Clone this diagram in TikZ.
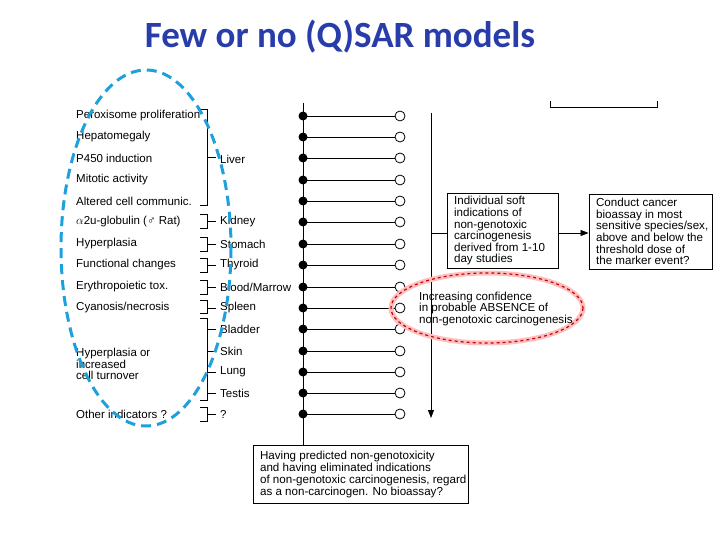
\documentclass[tikz,border=0pt]{standalone}
\usepackage{fontspec}
\setmainfont{Liberation Sans}
\newfontfamily\titlefont{Carlito}
\usetikzlibrary{arrows.meta}
\begin{document}
\begin{tikzpicture}[x=1pt,y=-1pt,
  lbl/.style={anchor=west,inner sep=0pt,font=\fontsize{11.5}{11.5}\selectfont,align=left},
  btxt/.style={font=\fontsize{11.6}{11.6}\selectfont,align=left},
  bx/.style={draw,line width=0.9pt,inner sep=0pt},
  fdot/.style={circle,fill=black,inner sep=0pt,minimum size=9pt},
  odot/.style={circle,draw,fill=white,line width=0.8pt,inner sep=0pt,minimum size=10pt},
  ln/.style={line width=0.8pt},
  brk/.style={line width=1pt}]
\useasboundingbox (0,0) rectangle (720,540);
\node[font=\titlefont\bfseries\fontsize{37}{40}\selectfont,text={rgb,255:red,40;green,60;blue,170}] (title) at (340,37) {Few or no (Q)SAR models};
% main vertical line
\coordinate (mtop) at (303,103);
\coordinate (mbot) at (303,445);
\draw[ln] (mtop) -- (mbot);
\foreach \i/\y in {1/116,2/137,3/158,4/180,5/201,6/222,7/244,8/265,9/287,10/308,11/329,12/351,13/372,14/393,15/414}{
  \node[odot] (o\i) at (400,\y) {};
  \draw[ln] (303,\y) -- (o\i);
  \node[fdot] (f\i) at (303,\y) {};
}
% left labels
\node[lbl] (l1) at (76,116) {Peroxisome proliferation};
\node[lbl] (l2) at (76,137) {Hepatomegaly};
\node[lbl] (l3) at (76,158) {P450 induction};
\node[lbl] (l4) at (76,180) {Mitotic activity};
\node[lbl] (l5) at (76,201) {Altered cell communic.};
\node[lbl] (l6) at (76,222) {$\alpha$2u-globulin (\char"2642\ Rat)};
\node[lbl] (l7) at (76,244) {Hyperplasia};
\node[lbl] (l8) at (76,265) {Functional changes};
\node[lbl] (l9) at (76,287) {Erythropoietic tox.};
\node[lbl] (l10) at (76,308) {Cyanosis/necrosis};
\node[lbl] (l11) at (76,364) {Hyperplasia or\\increased\\cell turnover};
\node[lbl] (l12) at (76,414) {Other indicators ?};
% brackets
\draw[brk] (200,110) -- (207,110) -- (207,206) -- (200,206);
\draw[brk] (207,158) -- (216,158);
\foreach \y in {222,244,265,287}{
  \draw[brk] (200,\y-7) -- (207,\y-7) -- (207,\y+7) -- (200,\y+7);
  \draw[brk] (207,\y) -- (216,\y);
}
\draw[brk] (200,300) -- (207,300) -- (207,313) -- (200,313);
\draw[brk] (207,308) -- (216,308);
\draw[brk] (200,318) -- (207,318) -- (207,400) -- (200,400);
\foreach \y in {329,351,372,393} \draw[brk] (207,\y) -- (216,\y);
\draw[brk] (200,407) -- (207,407) -- (207,421) -- (200,421);
\draw[brk] (207,414) -- (216,414);
% organ labels
\node[lbl] (liver) at (220,159) {Liver};
\foreach \n/\t/\y in {kid/Kidney/222,sto/Stomach/244,thy/Thyroid/265,blo/Blood\slash Marrow/287,spl/Spleen/308,bla/Bladder/329,ski/Skin/351,lun/Lung/372,tes/Testis/393,q/?/414}
  \node[lbl] (\n) at (220,\y) {\t};
% right arrow
\coordinate (atop) at (431,113);
\coordinate (abot) at (431,418);
\draw[ln,-{Triangle[length=8pt,width=6pt]}] (atop) -- (abot);
\node[bx,minimum width=111pt,minimum height=75pt] (b1) at (502.5,231) {};
\node[btxt,anchor=west] at ([xshift=4pt]b1.west) {Individual soft\\indications of\\non-genotoxic\\carcinogenesis\\derived from 1-10\\day studies};
\coordinate (aj) at (431,233);
\draw[ln] (aj) -- (b1.west |- aj);
\node[bx,minimum width=123pt,minimum height=75pt] (b2) at (650.5,231.5) {};
\node[btxt,anchor=west] at ([xshift=4pt]b2.west) {Conduct cancer\\bioassay in most\\sensitive species/sex,\\above and below the\\threshold dose of\\the marker event?};
\draw[ln,-{Triangle[length=8pt,width=6pt]}] (b1.east |- aj) -- (b2.west |- aj);
% top partial box
\coordinate (tp1) at (550,101);
\coordinate (tp2) at (657,101);
\draw[ln] (tp1) -- (550,107) -- (657,107) -- (tp2);
% red ellipse
\draw[red!25,line width=5pt] (487,308) ellipse [x radius=96,y radius=35];
\draw[red!80!black,dashed,line width=1.2pt] (487,308) ellipse [x radius=96,y radius=35];
\node[btxt,anchor=west,inner sep=0pt] (conf) at (419,309) {Increasing confidence\\in probable ABSENCE of\\non-genotoxic carcinogenesis};
% bottom box
\node[bx,minimum width=215pt,minimum height=58pt] (b3) at (360.5,474) {};
\node[btxt,anchor=west,font=\fontsize{11.6}{12}\selectfont] at ([xshift=4pt]b3.west) {Having predicted non-genotoxicity\\and having eliminated indications\\of non-genotoxic carcinogenesis, regard\\as a non-carcinogen. No bioassay?};
% blue ellipse
\draw[color={rgb,255:red,30;green,160;blue,220},dash pattern=on 10pt off 6pt,line width=3pt] (146,248) ellipse [x radius=85,y radius=178];
\end{tikzpicture}
\end{document}
